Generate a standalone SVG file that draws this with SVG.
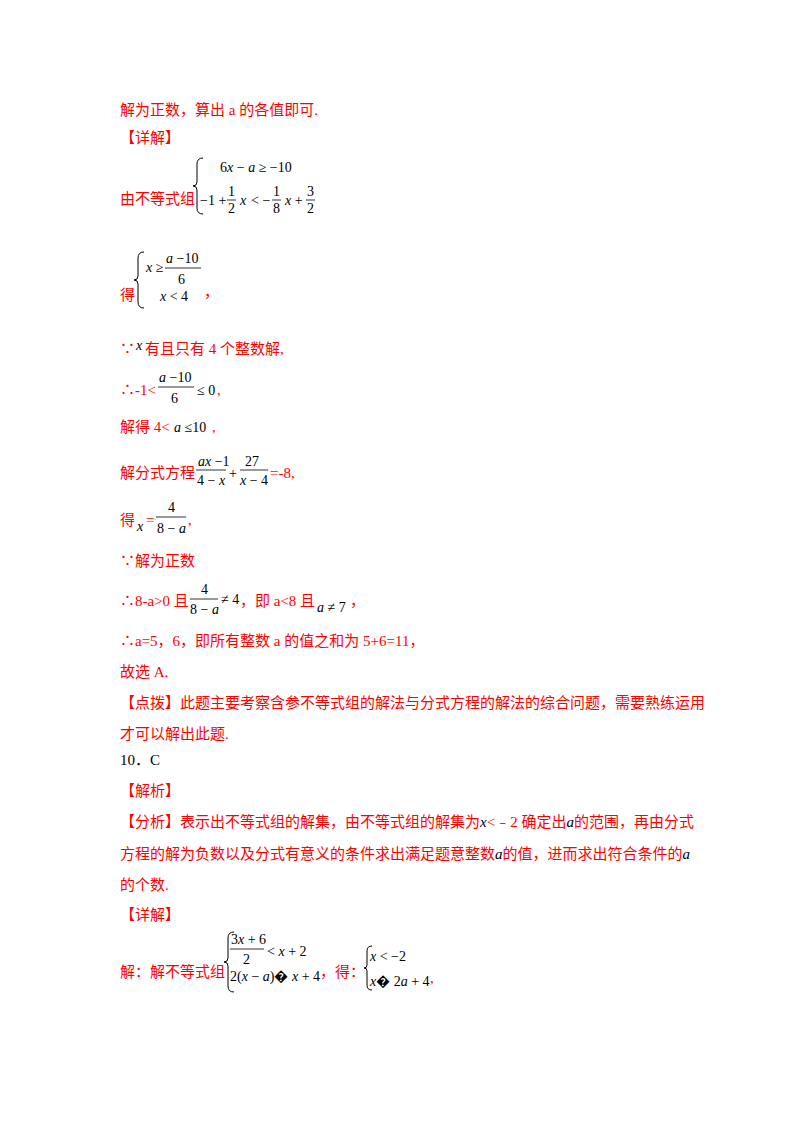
<svg xmlns="http://www.w3.org/2000/svg" width="800" height="1132" viewBox="0 0 800 1132">
<style>
.r{fill:#ff0000;font-family:"Liberation Serif","Noto Sans CJK SC",serif;font-size:15px}
.k{fill:#000;font-family:"Liberation Serif","Noto Sans CJK SC",serif;font-size:15px}
.m{fill:#000;font-family:"Liberation Serif",serif;font-size:14px}
.i{font-style:italic}
.b{fill:none;stroke:#000;stroke-width:1}
.f{stroke:#000;stroke-width:0.8}
</style>
<rect width="800" height="1132" fill="#fff"/>
<g id="text">
<text class="r" x="120" y="115">解为正数，算出 a 的各值即可.</text>
<text class="r" x="120" y="143">【详解】</text>
<text class="r" x="120" y="204">由不等式组</text>
<path class="b" d="M203,158 q-6,0 -6,6 v18 q0,4 -4,4 q4,0 4,4 v18 q0,6 6,6"/>
<text class="m" x="220" y="172">6<tspan class="i">x</tspan> − <tspan class="i">a</tspan> ≥ −10</text>
<text class="m" x="200" y="205">−1 +</text>
<text class="m" x="228" y="196">1</text><line class="f" x1="227" y1="200" x2="236" y2="200"/><text class="m" x="228" y="213">2</text>
<text class="m i" x="240" y="205">x</text><text class="m" x="251" y="205">&lt; −</text>
<text class="m" x="273" y="196">1</text><line class="f" x1="272" y1="200" x2="281" y2="200"/><text class="m" x="273" y="213">8</text>
<text class="m" x="285" y="205"><tspan class="i">x</tspan> +</text>
<text class="m" x="307" y="196">3</text><line class="f" x1="306" y1="200" x2="315" y2="200"/><text class="m" x="307" y="213">2</text>

<text class="r" x="120" y="300">得</text>
<path class="b" d="M144,252 q-6,0 -6,6 v18 q0,4 -4,4 q4,0 4,4 v18 q0,6 6,6"/>
<text class="m" x="146" y="272"><tspan class="i">x</tspan> ≥</text>
<text class="m" x="166" y="263"><tspan class="i">a</tspan> −10</text><line class="f" x1="165" y1="268" x2="201" y2="268"/><text class="m" x="178" y="284">6</text>
<text class="m" x="160" y="301"><tspan class="i">x</tspan> &lt; 4</text>
<text class="r" x="204" y="297">，</text>

<text class="r" x="120" y="354">∵</text><text class="m i" x="136" y="350" font-size="13">x</text><text class="r" x="145" y="354">有且只有 4 个整数解,</text>
<text class="r" x="120" y="395">∴-1&lt;</text>
<text class="m" x="159" y="382"><tspan class="i">a</tspan> −10</text><line class="f" x1="158" y1="387" x2="194" y2="387"/><text class="m" x="171" y="403">6</text>
<text class="m" x="197" y="395">≤ 0</text><text class="r" x="217" y="395">,</text>
<text class="r" x="120" y="432">解得 4&lt;</text><text class="m" x="174" y="432"><tspan class="i">a</tspan> ≤10</text><text class="r" x="212" y="432">,</text>
<text class="r" x="120" y="478">解分式方程</text>
<text class="m" x="198" y="466"><tspan class="i">ax</tspan> −1</text><line class="f" x1="196" y1="470" x2="226" y2="470"/><text class="m" x="197" y="485">4 − <tspan class="i">x</tspan></text>
<text class="m" x="229" y="478">+</text>
<text class="m" x="245" y="466">27</text><line class="f" x1="240" y1="470" x2="268" y2="470"/><text class="m" x="240" y="485"><tspan class="i">x</tspan> − 4</text>
<text class="r" x="270" y="478">=-8,</text>
<text class="r" x="120" y="525">得</text><text class="m i" x="137" y="531">x</text><text class="r" x="146" y="525">=</text>
<text class="m" x="168" y="512">4</text><line class="f" x1="156" y1="517" x2="186" y2="517"/><text class="m" x="157" y="533">8 − <tspan class="i">a</tspan></text>
<text class="r" x="188" y="525">,</text>
<text class="r" x="120" y="566">∵解为正数</text>
<text class="r" x="120" y="606">∴8-a&gt;0 且</text>
<text class="m" x="201" y="594">4</text><line class="f" x1="190" y1="599" x2="218" y2="599"/><text class="m" x="190" y="614">8 − <tspan class="i">a</tspan></text>
<text class="m" x="221" y="604">≠ 4</text><text class="r" x="240" y="606">，即 a&lt;8 且</text>
<text class="m" x="317" y="612"><tspan class="i">a</tspan> ≠ 7</text><text class="r" x="350" y="606">，</text>
<text class="r" x="120" y="646">∴a=5，6，即所有整数 a 的值之和为 5+6=11，</text>
<text class="r" x="120" y="677">故选 A.</text>
<text class="r" x="120" y="708">【点拨】此题主要考察含参不等式组的解法与分式方程的解法的综合问题，需要熟练运用</text>
<text class="r" x="120" y="739">才可以解出此题.</text>
<text class="k" x="120" y="765">10．C</text>
<text class="r" x="120" y="796">【解析】</text>
<text class="r" x="120" y="827">【分析】表示出不等式组的解集，由不等式组的解集为<tspan fill="#000" class="i">x</tspan>&lt;﹣2 确定出<tspan fill="#000" class="i">a</tspan>的范围，再由分式</text>
<text class="r" x="120" y="859">方程的解为负数以及分式有意义的条件求出满足题意整数<tspan fill="#000" class="i">a</tspan>的值，进而求出符合条件的<tspan fill="#000" class="i">a</tspan></text>
<text class="r" x="120" y="890">的个数.</text>
<text class="r" x="120" y="920">【详解】</text>
<text class="r" x="120" y="977">解：解不等式组</text>
<path class="b" d="M234,932 q-6,0 -6,6 v20 q0,4 -4,4 q4,0 4,4 v20 q0,6 6,6"/>
<text class="m" x="231" y="944">3<tspan class="i">x</tspan> + 6</text><line class="f" x1="230" y1="949" x2="264" y2="949"/><text class="m" x="243" y="964">2</text>
<text class="m" x="267" y="956">&lt; <tspan class="i">x</tspan> + 2</text>
<text class="m" x="230" y="981">2(<tspan class="i">x</tspan> − <tspan class="i">a</tspan>)� <tspan class="i">x</tspan> + 4</text>
<text class="r" x="320" y="977">，得：</text>
<path class="b" d="M372,946 q-5,0 -5,5 v14 q0,3 -3,3 q3,0 3,3 v14 q0,5 5,5"/>
<text class="m" x="370" y="961"><tspan class="i">x</tspan> &lt; −2</text>
<text class="m" x="370" y="986"><tspan class="i">x</tspan>� 2<tspan class="i">a</tspan> + 4</text>
<text class="r" x="430" y="983">,</text>
</g>
</svg>
